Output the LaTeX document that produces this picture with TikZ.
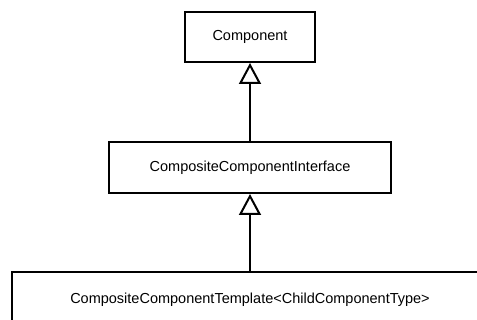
\documentclass[tikz,border=0pt]{standalone}
\usepackage{fontspec}
\setmainfont{Liberation Sans}
\usetikzlibrary{arrows.meta, positioning}

\begin{document}
\begin{tikzpicture}[x=1pt, y=1pt,
    classbox/.style={draw=black, line width=2pt, fill=white, inner sep=0pt,
      font=\fontsize{14.5}{17}\selectfont},
    inherit/.style={line width=2pt, -{Triangle[open, length=21pt, width=22pt]}}]
  % Frame
  \useasboundingbox (0,0) rectangle (477,-320);
  \clip (0,0) rectangle (477,-320);
  % Classes
  \node[classbox, minimum width=130, minimum height=50] (comp) at (250,-37) {Component};
  \node[classbox, minimum width=282, minimum height=51] (iface) at (250,-167.5) {CompositeComponentInterface};
  \node[classbox, minimum width=476, minimum height=56] (tmpl) at (250,-300) {CompositeComponentTemplate<ChildComponentType>};
  % Inheritance
  \draw[inherit] (iface) -- (comp);
  \draw[inherit] (tmpl) -- (iface);
\end{tikzpicture}
\end{document}
